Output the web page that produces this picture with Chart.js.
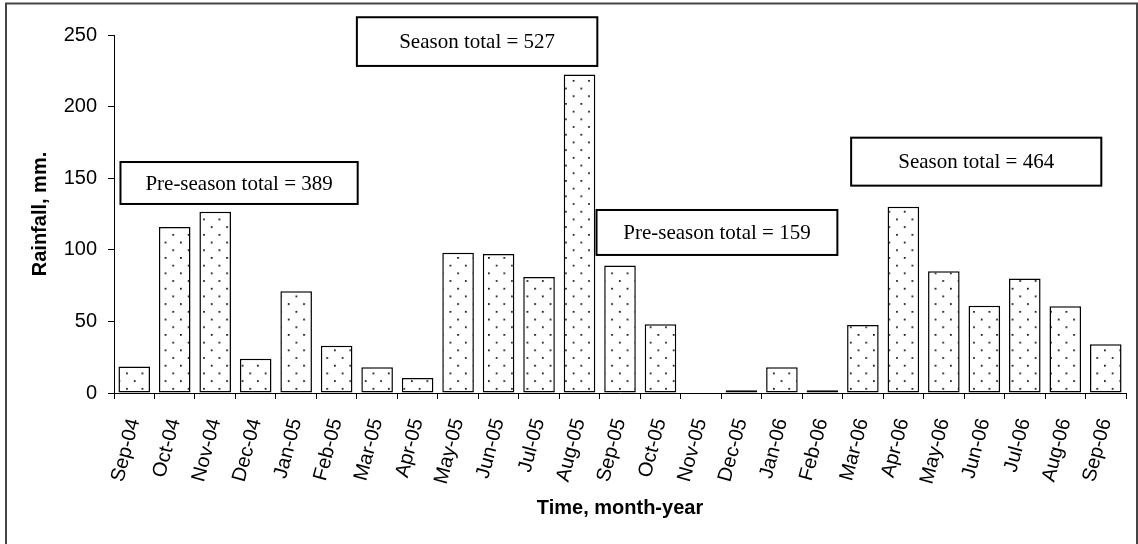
<!DOCTYPE html>
<html>
<head>
<meta charset="utf-8">
<script src="https://cdn.jsdelivr.net/npm/chart.js@4.4.1/dist/chart.umd.min.js"></script>
<style>
  html, body { margin: 0; padding: 0; background: #fff; }
  #wrap { width: 1138px; height: 544px; position: relative; }
</style>
</head>
<body>
<div id="wrap"><canvas id="c" width="1138" height="544"></canvas></div>
<script>
// Monthly rainfall, Sep 2004 - Sep 2006
const months = ['Sep-04','Oct-04','Nov-04','Dec-04','Jan-05','Feb-05','Mar-05','Apr-05','May-05',
  'Jun-05','Jul-05','Aug-05','Sep-05','Oct-05','Nov-05','Dec-05','Jan-06','Feb-06','Mar-06',
  'Apr-06','May-06','Jun-06','Jul-06','Aug-06','Sep-06'];
const rainfall = [18.5, 116, 126.5, 24, 71, 33, 18, 10.5, 98, 97, 81, 222.5, 89, 48, 0, 2, 18, 2,
  47.5, 130, 85, 61, 80, 60.5, 34];
const yTicks = [0, 50, 100, 150, 200, 250];

// Period totals shown in the boxed notes
const noteLabels = ['Pre-season total = 389', 'Season total = 527', 'Pre-season total = 159', 'Season total = 464'];
// Where each note box sits, in axis units (category index range, rainfall range)
const noteBoxes = [
  { from: -0.34, to: 5.52,  low: 132,  high: 161.3 },
  { from: 5.50,  to: 11.44, low: 228.4, high: 262.4 },
  { from: 11.42, to: 17.37, low: 96.4, high: 127.8 },
  { from: 17.71, to: 23.89, low: 144.8, high: 178.3 }
];

const SANS = "'Liberation Sans', Arial, sans-serif";
const SERIF = "'Liberation Serif', 'Times New Roman', serif";

const canvas = document.getElementById('c');
const ctx = canvas.getContext('2d');

// Sparse dotted fill for the bars
function dotPattern() {
  const t = document.createElement('canvas');
  t.width = 16; t.height = 16;
  const g = t.getContext('2d');
  g.fillStyle = '#fff';
  g.fillRect(0, 0, 16, 16);
  g.fillStyle = '#111';
  g.fillRect(3, 3, 1.8, 1.8);
  g.fillRect(11, 11, 1.8, 1.8);
  const p = ctx.createPattern(t, 'repeat');
  if (p.setTransform) p.setTransform(new DOMMatrix().scale(15.4 / 16));
  return p;
}

const pagePlugin = {
  id: 'page',
  beforeDraw(chart) {
    const c = chart.ctx;
    c.save();
    c.fillStyle = '#fff';
    c.fillRect(0, 0, chart.width, chart.height);
    c.restore();
  },
  afterDraw(chart) {
    const c = chart.ctx;
    c.save();
    c.strokeStyle = '#444';
    c.lineWidth = 2;
    c.strokeRect(6, 3.5, 1131, 560);
    c.restore();
  }
};

const notesPlugin = {
  id: 'notes',
  afterDatasetsDraw(chart) {
    const c = chart.ctx;
    const xs = chart.scales.x, ys = chart.scales.y;
    c.save();
    noteBoxes.forEach((b, i) => {
      const x0 = xs.getPixelForValue(b.from), x1 = xs.getPixelForValue(b.to);
      const y0 = ys.getPixelForValue(b.high), y1 = ys.getPixelForValue(b.low);
      c.fillStyle = '#fff';
      c.fillRect(x0, y0, x1 - x0, y1 - y0);
      c.strokeStyle = '#000';
      c.lineWidth = 2;
      c.strokeRect(x0, y0, x1 - x0, y1 - y0);
      c.fillStyle = '#000';
      c.font = '21px ' + SERIF;
      c.textAlign = 'center';
      c.textBaseline = 'middle';
      c.fillText(noteLabels[i], (x0 + x1) / 2, (y0 + y1) / 2 + 1);
    });
    c.restore();
  }
};

new Chart(ctx, {
  type: 'bar',
  data: {
    labels: months,
    datasets: [{
      data: rainfall,
      backgroundColor: dotPattern(),
      borderColor: '#000',
      borderWidth: 1.5,
      borderSkipped: false,
      barPercentage: 0.78,
      categoryPercentage: 1
    }]
  },
  options: {
    responsive: false,
    animation: false,
    devicePixelRatio: 1,
    layout: { padding: { left: 24, right: 12, top: 35, bottom: 20 } },
    plugins: { legend: { display: false }, tooltip: { enabled: false } },
    scales: {
      x: {
        offset: true,
        grid: { display: true, drawOnChartArea: false, drawTicks: true, tickLength: 6, color: '#000', lineWidth: 1, offset: true },
        border: { display: true, color: '#000', width: 1 },
        ticks: { color: '#000', font: { family: SANS, size: 20 }, minRotation: 75, maxRotation: 75, padding: 17, autoSkip: false },
        title: { display: true, text: 'Time, month-year', color: '#000', font: { family: SANS, size: 20, weight: 'bold' }, padding: { top: 4, bottom: 4 } },
        afterFit(s) {
          s.height = 131;
          // rotated labels stay inside the axis span; no extra side padding
          s.paddingLeft = 0;
          s.paddingRight = 0;
        }
      },
      y: {
        min: 0, max: 250,
        afterBuildTicks(s) { s.ticks = yTicks.map(v => ({ value: v })); },
        grid: { display: true, drawOnChartArea: false, drawTicks: true, tickLength: 6, color: '#000', lineWidth: 1 },
        border: { display: true, color: '#000', width: 1 },
        ticks: { color: '#000', font: { family: SANS, size: 20 }, padding: 11 },
        title: { display: true, text: 'Rainfall, mm.', color: '#000', font: { family: SANS, size: 20, weight: 'bold' }, padding: { top: 4, bottom: 4 } },
        afterFit(s) { s.width = 90; }
      }
    }
  },
  plugins: [pagePlugin, notesPlugin]
});
</script>
</body>
</html>
